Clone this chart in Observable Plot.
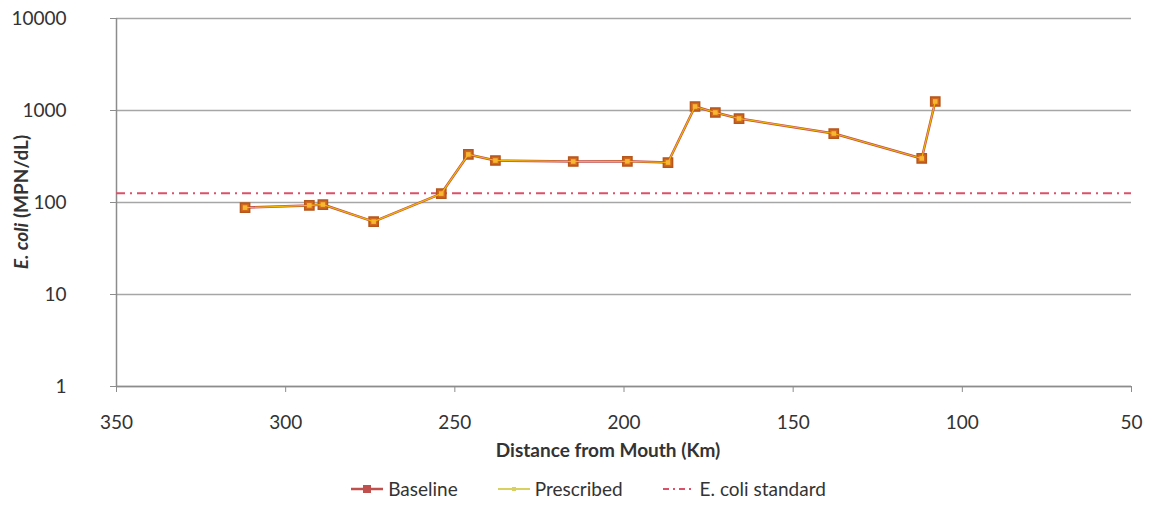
<!DOCTYPE html>
<html>
<head>
<meta charset="utf-8">
<script src="https://cdn.jsdelivr.net/npm/d3@7"></script>
<script src="https://cdn.jsdelivr.net/npm/@observablehq/plot@0.6"></script>
<style>
  body { margin: 0; background: #fff; font-family: Lato, "Open Sans", sans-serif; }
  #chart svg { display: block; }
  .legend { display: flex; justify-content: center; gap: 38px; font-size: 19px; color: #333; margin-top: 12px; margin-left: 20px; }
  .legend span.item { display: flex; align-items: center; gap: 3px; }
</style>
</head>
<body>
<div id="chart"></div>
<div class="legend" id="legend"></div>
<script>
// Data
const distanceKm = [312, 293, 289, 274, 254, 246, 238, 215, 199, 187, 179, 173, 166, 138, 112, 108];
const baseline   = [88, 93, 95, 62, 125, 333, 286, 279, 280, 272, 1105, 951, 818, 562, 301, 1253];
const prescribed = [88, 93, 95, 62, 125, 333, 286, 279, 280, 272, 1105, 951, 818, 562, 301, 1253];
const ecoliStandard = 126;
const xTicks = [350, 300, 250, 200, 150, 100, 50];
const yTicks = [1, 10, 100, 1000, 10000];
const seriesNames = ["Baseline", "Prescribed", "E. coli standard"];

const baseRows = distanceKm.map((d, i) => ({x: d, y: baseline[i]}));
const presRows = distanceKm.map((d, i) => ({x: d, y: prescribed[i]}));

const colBase = "#C0504D";
const colPres = "#F2B500";
const colStd = "#D9526A";

const W = 1155, H = 465;
const chart = Plot.plot({
  width: W, height: H,
  marginLeft: 116, marginRight: 24, marginTop: 18, marginBottom: 79,
  style: {fontFamily: "Lato, 'Open Sans', sans-serif", fontSize: "19px", color: "#333", background: "#fff"},
  x: {domain: [350, 50], ticks: xTicks, label: null},
  y: {type: "log", domain: [1, 10000], ticks: yTicks, tickFormat: d3.format("d"), label: null},
  marks: [
    Plot.gridY(yTicks, {stroke: "#a6a6a6", strokeOpacity: 1, strokeWidth: 1.5}),
    Plot.ruleX([350], {stroke: "#8c8c8c", strokeWidth: 1.5}),
    Plot.ruleY([1], {stroke: "#8c8c8c", strokeWidth: 1.5}),
    Plot.axisX({ticks: xTicks, tickSize: 6, tickPadding: 23, stroke: "#8c8c8c", label: null, fill: "#333"}),
    Plot.axisY({ticks: yTicks, tickSize: 6, tickPadding: 44, tickFormat: d3.format("d"), stroke: "#8c8c8c", label: null, fill: "#333"}),
    Plot.ruleY([ecoliStandard], {stroke: colStd, strokeWidth: 2, strokeDasharray: "9,5,2,5"}),
    Plot.line(baseRows, {x: "x", y: "y", stroke: colBase, strokeWidth: 2.5}),
    Plot.dot(baseRows, {x: "x", y: "y", symbol: "square", r: 5.2, fill: "#D2691E", stroke: "#B5561E", strokeWidth: 1.5}),
    Plot.line(presRows, {x: "x", y: "y", stroke: colPres, strokeWidth: 1.2}),
    Plot.dot(presRows, {x: "x", y: "y", symbol: "square", r: 2.6, fill: "#F7B733", stroke: "none"})
  ]
});
document.getElementById("chart").appendChild(chart);

const svg = d3.select(chart);
// Y axis title with italic "E. coli"
const yt = svg.append("text")
  .attr("transform", "translate(28,202) rotate(-90)")
  .attr("text-anchor", "middle")
  .attr("font-weight", "bold")
  .attr("font-size", 19)
  .attr("fill", "#333");
yt.append("tspan").attr("font-style", "italic").text("E. coli");
yt.append("tspan").text(" (MPN/dL)");
// X axis title
svg.append("text")
  .attr("x", 608).attr("y", 457)
  .attr("text-anchor", "middle")
  .attr("font-weight", "bold")
  .attr("font-size", 19)
  .attr("fill", "#333")
  .text("Distance from Mouth (Km)");

// Legend
const legend = d3.select("#legend");
const sw = [
  {name: seriesNames[0], stroke: colBase, width: 2.5, dash: null, marker: {fill: colBase, size: 8}},
  {name: seriesNames[1], stroke: "#D8D060", width: 2, dash: null, marker: {fill: "#D8D060", size: 4}},
  {name: seriesNames[2], stroke: colStd, width: 2, dash: "6,4,2,4", marker: null}
];
sw.forEach(s => {
  const item = legend.append("span").attr("class", "item");
  const g = item.append("svg").attr("width", 36).attr("height", 20);
  g.append("line").attr("x1", 2).attr("x2", 34).attr("y1", 10).attr("y2", 10)
    .attr("stroke", s.stroke).attr("stroke-width", s.width)
    .attr("stroke-dasharray", s.dash);
  if (s.marker) {
    g.append("rect").attr("x", 18 - s.marker.size / 2).attr("y", 10 - s.marker.size / 2)
      .attr("width", s.marker.size).attr("height", s.marker.size).attr("fill", s.marker.fill);
  }
  item.append("span").text(s.name);
});
</script>
</body>
</html>
